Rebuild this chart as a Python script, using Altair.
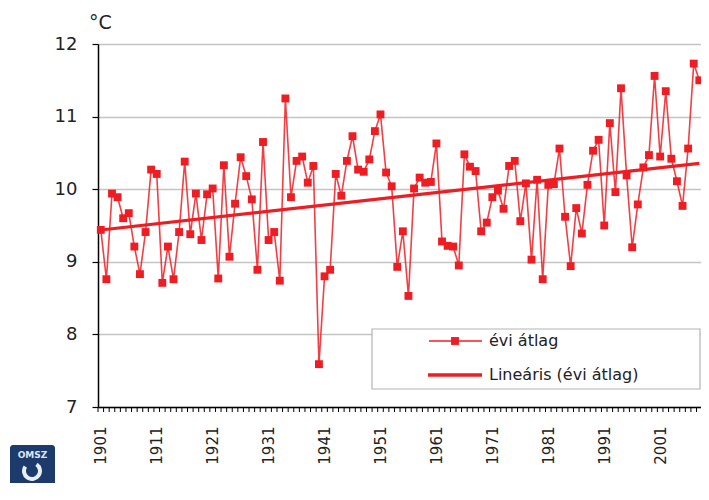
import altair as alt
import pandas as pd

# ---- data ----
years = list(range(1901, 2009))
temps = [
    9.44, 8.76, 9.94, 9.89, 9.60, 9.67, 9.21, 8.83, 9.41, 10.27,   # 1901-1910
    10.21, 8.71, 9.21, 8.76, 9.41, 10.38, 9.38, 9.94, 9.30, 9.93,  # 1911-1920
    10.01, 8.77, 10.33, 9.07, 9.80, 10.44, 10.18, 9.86, 8.89, 10.65,  # 1921-1930
    9.30, 9.41, 8.74, 11.25, 9.89, 10.39, 10.45, 10.09, 10.32, 7.59,  # 1931-1940
    8.80, 8.89, 10.21, 9.91, 10.39, 10.73, 10.27, 10.24, 10.41, 10.80,  # 1941-1950
    11.03, 10.23, 10.04, 8.93, 9.42, 8.53, 10.01, 10.16, 10.09, 10.10,  # 1951-1960
    10.63, 9.28, 9.22, 9.21, 8.95, 10.48, 10.31, 10.25, 9.42, 9.54,  # 1961-1970
    9.89, 9.98, 9.73, 10.32, 10.39, 9.56, 10.08, 9.03, 10.13, 8.76,  # 1971-1980
    10.06, 10.07, 10.56, 9.62, 8.94, 9.74, 9.39, 10.06, 10.53, 10.68,  # 1981-1990
    9.50, 10.91, 9.96, 11.39, 10.19, 9.20, 9.79, 10.30, 10.47, 11.56,  # 1991-2000
    10.45, 11.35, 10.42, 10.11, 9.77, 10.56, 11.73, 11.50,  # 2001-2008
]
label_years = [1901, 1911, 1921, 1931, 1941, 1951, 1961, 1971, 1981, 1991, 2001]
y_ticks = [7, 8, 9, 10, 11, 12]
legend_labels = ["évi átlag", "Lineáris (évi átlag)"]
unit_label = "°C"
logo_text = "OMSZ"

# ---- styling ----
RED = "#ee1d23"
FONT = "DejaVu Sans"
TXT = "#222222"
W, H = 603, 363

df = pd.DataFrame({"year": years, "temp": temps})
leg = pd.DataFrame({"label": legend_labels, "row": [0, 1]})
one = pd.DataFrame({"k": [0]})
logo = pd.DataFrame({"t": [logo_text]})
bounds = pd.DataFrame({"year": years + [years[-1] + 1]})

x_scale = alt.Scale(domain=[years[0] - 0.5, years[-1] + 0.3], nice=False, zero=False)
y_scale = alt.Scale(domain=[y_ticks[0], y_ticks[-1]], nice=False, zero=False)

x_axis = alt.Axis(
    values=label_years,
    format="d",
    labelAngle=-90,
    labelFontSize=15,
    labelColor=TXT,
    labelPadding=19,
    labelOverlap=False,
    labelFlush=False,
    labelBound=False,
    ticks=False,
    domainColor="#000000",
    domainWidth=1.5,
    grid=False,
    title=None,
)
y_axis = alt.Axis(
    values=y_ticks,
    format="d",
    labelFontSize=18,
    labelColor=TXT,
    labelPadding=15,
    tickSize=6,
    tickColor="#000000",
    tickWidth=1.2,
    domainColor="#000000",
    domainWidth=1.5,
    grid=True,
    gridColor="#c4c4c4",
    gridWidth=1.3,
    title=unit_label,
    titleAngle=0,
    titleX=2,
    titleY=-22,
    titleAlign="center",
    titleBaseline="middle",
    titleFontSize=19,
    titleFontWeight="normal",
    titleColor=TXT,
)

base = alt.Chart(df).encode(
    x=alt.X("year:Q", scale=x_scale, axis=x_axis),
    y=alt.Y("temp:Q", scale=y_scale, axis=y_axis),
)

line = base.mark_line(color=RED, strokeWidth=1.6, opacity=0.85)
points = base.mark_square(color=RED, size=62, opacity=1)
trend = (
    alt.Chart(df)
    .transform_regression("year", "temp")
    .mark_line(color=RED, strokeWidth=3.2)
    .encode(x=alt.X("year:Q", scale=x_scale), y=alt.Y("temp:Q", scale=y_scale))
)

# minor ticks between the year categories (Excel category axis)
minor_ticks = (
    alt.Chart(bounds)
    .transform_calculate(edge="datum.year - 0.5")
    .mark_rule(color="#000000", strokeWidth=1)
    .encode(x=alt.X("edge:Q", scale=x_scale), y=alt.value(H), y2=alt.value(H + 5))
)

# ---- legend box (manual, like Excel) ----
box = alt.Chart(one).mark_rect(fill="white", stroke="#b4b4b4", strokeWidth=1.2).encode(
    x=alt.value(274), x2=alt.value(602), y=alt.value(285), y2=alt.value(345)
)
leg_line1 = alt.Chart(one).mark_rule(color=RED, strokeWidth=1.6).encode(
    x=alt.value(331), x2=alt.value(384), y=alt.value(297)
)
leg_sq = alt.Chart(one).mark_square(color=RED, size=62, opacity=1).encode(
    x=alt.value(357), y=alt.value(297)
)
leg_line2 = alt.Chart(one).mark_rule(color=RED, strokeWidth=3.5).encode(
    x=alt.value(330), x2=alt.value(384), y=alt.value(331)
)
leg_t1 = alt.Chart(leg).transform_filter("datum.row == 0").mark_text(
    align="left", baseline="middle", font=FONT, fontSize=16, color=TXT
).encode(text="label:N", x=alt.value(391), y=alt.value(297))
leg_t2 = alt.Chart(leg).transform_filter("datum.row == 1").mark_text(
    align="left", baseline="middle", font=FONT, fontSize=16, color=TXT
).encode(text="label:N", x=alt.value(391), y=alt.value(331))

# ---- OMSZ logo (simplified) ----
logo_rect = alt.Chart(one).mark_rect(fill="#1c3a6b", cornerRadius=3).encode(
    x=alt.value(-88), x2=alt.value(-43), y=alt.value(401), y2=alt.value(460)
)
logo_t = alt.Chart(logo).mark_text(
    font=FONT, fontSize=9, fontWeight="bold", color="#dfe6f2", baseline="middle"
).encode(text="t:N", x=alt.value(-65.5), y=alt.value(411))
logo_swirl = alt.Chart(one).mark_arc(
    radius=10, radius2=6, theta=0.6, theta2=5.3, color="#e8eef6"
).encode(x=alt.value(-66), y=alt.value(427))

chart = (
    alt.layer(line, points, trend, minor_ticks, box, leg_line1, leg_sq, leg_line2,
              leg_t1, leg_t2, logo_rect, logo_t, logo_swirl)
    .properties(
        width=W,
        height=H,
        padding={"left": 90, "top": 36, "right": 0, "bottom": 76},
        autosize=alt.AutoSizeParams(type="none"),
        background="white",
    )
    .configure_view(strokeWidth=0)
    .configure_axis(labelFont=FONT, titleFont=FONT)
)

chart.save("out.html", embed_options={"renderer": "svg", "actions": False})
